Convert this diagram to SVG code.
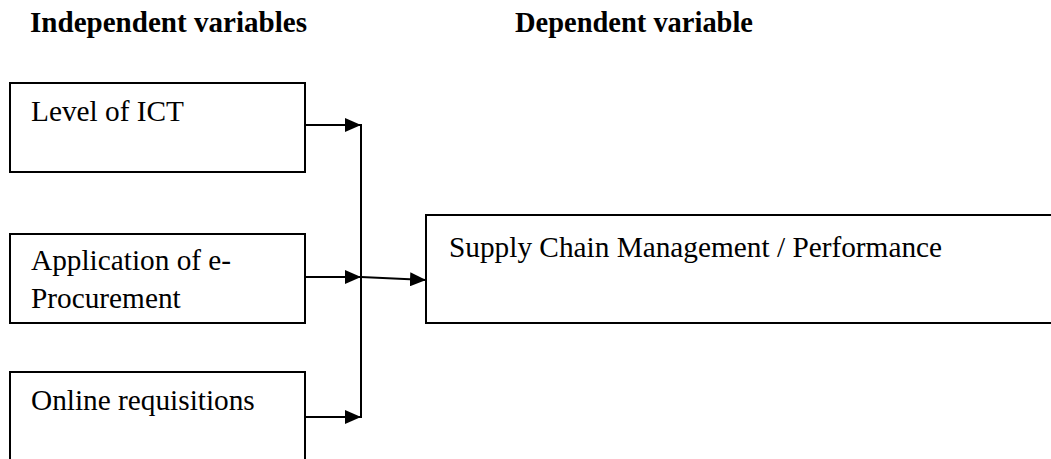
<svg xmlns="http://www.w3.org/2000/svg" width="1051" height="459" viewBox="0 0 1051 459">
<style>
.box{fill:#fff;stroke:#000;stroke-width:2}
.t{font-family:"Liberation Serif","Times New Roman",serif;font-size:29.3px;fill:#000}
.h{font-family:"Liberation Serif","Times New Roman",serif;font-size:29px;font-weight:bold;fill:#000}
.ln{fill:none;stroke:#000;stroke-width:2}
</style>
<defs>
<marker id="arr" viewBox="0 0 16 14" refX="16" refY="7" markerWidth="16" markerHeight="14" markerUnits="userSpaceOnUse" orient="auto">
<path d="M0,0 L16,7 L0,14 Z" fill="#000"/>
</marker>
</defs>
<text class="h" x="30" y="32" textLength="277" lengthAdjust="spacingAndGlyphs">Independent variables</text>
<text class="h" x="515" y="32" textLength="238" lengthAdjust="spacingAndGlyphs">Dependent variable</text>
<g id="node-ict">
<rect class="box" x="10" y="83" width="295" height="89"/>
<text class="t" x="31" y="121">Level of ICT</text>
</g>
<g id="node-eproc">
<rect class="box" x="10" y="234" width="295" height="89"/>
<text class="t" x="31" y="270">Application of e-</text>
<text class="t" x="31" y="308">Procurement</text>
</g>
<g id="node-online">
<rect class="box" x="10" y="372" width="295" height="110"/>
<text class="t" x="31" y="410">Online requisitions</text>
</g>
<g id="node-scm">
<rect class="box" x="426" y="215" width="640" height="108"/>
<text class="t" x="449" y="257">Supply Chain Management / Performance</text>
</g>
<g id="connectors">
<line class="ln" x1="305" y1="125" x2="361" y2="125" marker-end="url(#arr)"/>
<line class="ln" x1="305" y1="277" x2="361" y2="277" marker-end="url(#arr)"/>
<line class="ln" x1="305" y1="417" x2="361" y2="417" marker-end="url(#arr)"/>
<line class="ln" x1="361" y1="124" x2="361" y2="418"/>
<line class="ln" x1="361" y1="277" x2="426" y2="280" marker-end="url(#arr)"/>
</g>
</svg>
